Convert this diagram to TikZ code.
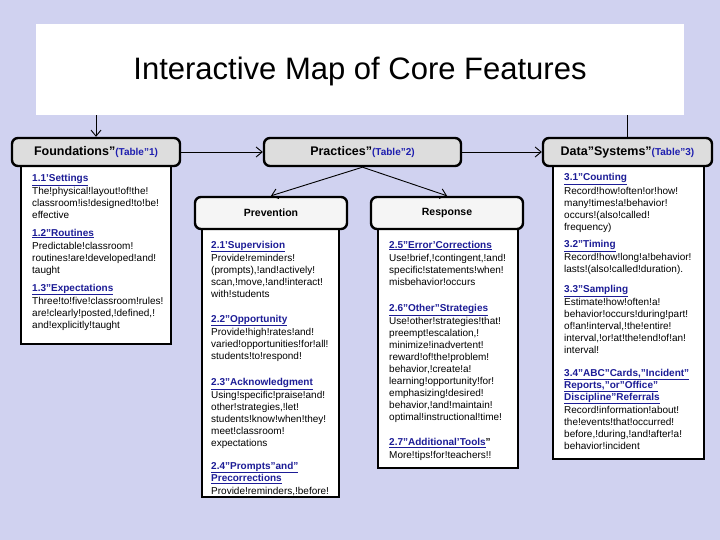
\documentclass[tikz,border=0pt]{standalone}
\usepackage{fontspec}
\setmainfont{Liberation Sans}
\usetikzlibrary{arrows.meta}
\definecolor{bg}{RGB}{208,210,240}
\definecolor{hdrfill}{RGB}{221,221,221}
\definecolor{subfill}{RGB}{245,245,245}
\definecolor{linkblue}{RGB}{28,28,150}
\definecolor{tblblue}{RGB}{30,30,175}
\newcommand\hd[1]{{\bfseries\color{linkblue}\underline{#1}}}
\begin{document}
\begin{tikzpicture}[x=1pt,y=-1pt,
  hdr/.style={draw=black, line width=2.4pt, rounded corners=6pt, fill=hdrfill, inner sep=0pt, minimum height=28pt},
  sub/.style={draw=black, line width=2.4pt, rounded corners=6pt, fill=subfill, inner sep=0pt, minimum height=32pt, font=\fontsize{10.5}{12}\selectfont\bfseries},
  panel/.style={draw=black, line width=1.1pt, fill=white, inner sep=0pt},
  sect/.style={anchor=north west, inner sep=0pt, align=left, font=\fontsize{10}{12}\selectfont},
  conn/.style={draw=black, line width=0.9pt, -{Straight Barb[length=6pt,width=10pt]}},
  plain/.style={draw=black, line width=0.9pt},
  bigt/.style={font=\fontsize{12.5}{14}\selectfont\bfseries},
  smallt/.style={font=\fontsize{10}{12}\selectfont\bfseries}
]
\useasboundingbox (0,0) rectangle (720,540);
\fill[bg] (0,0) rectangle (720,540);

% title
\node[fill=white, minimum width=648pt, minimum height=91pt, inner sep=0pt] (title) at (360,69.5) {};
\node[font=\fontsize{31}{36}\selectfont, inner sep=0pt] (ttext) at (360,71) {Interactive Map of Core Features};

% panels
\node[panel, minimum width=150pt, minimum height=178pt] (foundD) at (96,255) {};
\node[panel, minimum width=137pt, minimum height=268pt] (prevD) at (270.5,363) {};
\node[panel, minimum width=140pt, minimum height=239pt] (respD) at (448,348.5) {};
\node[panel, minimum width=151pt, minimum height=293pt] (dataD) at (628.5,312.5) {};

% headers
\node[hdr, minimum width=168pt] (found) at (96,152)
  {{\fontsize{12.5}{14}\selectfont\bfseries Foundations"}{\fontsize{10}{12}\selectfont\bfseries\color{tblblue}(Table"1)}};
\node[hdr, minimum width=197pt] (prac) at (362.5,152)
  {{\fontsize{12.5}{14}\selectfont\bfseries Practices"}{\fontsize{10}{12}\selectfont\bfseries\color{tblblue}(Table"2)}};
\node[hdr, minimum width=169pt] (data) at (627.5,152)
  {{\fontsize{12.5}{14}\selectfont\bfseries Data"Systems"}{\fontsize{10}{12}\selectfont\bfseries\color{tblblue}(Table"3)}};
\node[sub, minimum width=152pt] (prev) at (271,213) {Prevention};
\node[sub, minimum width=152pt] (resp) at (447,213) {Response};

% connectors
\draw[conn] (found.north |- title.south) -- (found.north);
\draw[plain] (data.north |- title.south) -- (data.north);
\draw[conn] (found.east) -- (prac.west);
\draw[conn] (prac.east) -- (data.west);
\draw[conn] (prac.south) -- (prev.north);
\draw[conn] (prac.south) -- (resp.north);

% Foundations sections
\node[sect] (s11) at (32,172.6) {\strut\hd{1.1'Settings}\\[1pt]
The!physical!layout!of!the!\\ classroom!is!designed!to!be!\\ effective};
\node[sect] (s12) at (32,227.6) {\strut\hd{1.2"Routines}\\[1pt]
Predictable!classroom!\\ routines!are!developed!and!\\ taught};
\node[sect] (s13) at (32,282.6) {\strut\hd{1.3"Expectations}\\[1pt]
Three!to!five!classroom!rules!\\ are!clearly!posted,!defined,!\\ and!explicitly!taught};

% Prevention sections
\node[sect] (s21) at (211,239.6) {\strut\hd{2.1'Supervision}\\[1pt]
Provide!reminders!\\ (prompts),!and!actively!\\ scan,!move,!and!interact!\\ with!students};
\node[sect] (s22) at (211,313.6) {\strut\hd{2.2"Opportunity}\\[1pt]
Provide!high!rates!and!\\ varied!opportunities!for!all!\\ students!to!respond!};
\node[sect] (s23) at (211,376.6) {\strut\hd{2.3"Acknowledgment}\\[1pt]
Using!specific!praise!and!\\ other!strategies,!let!\\ students!know!when!they!\\ meet!classroom!\\ expectations};
\node[sect] (s24) at (211,460.6) {\strut\hd{2.4"Prompts"and"}\\ \hd{Precorrections}\\[1pt]
Provide!reminders,!before!};

% Response sections
\node[sect] (s25) at (389,239.6) {\strut\hd{2.5"Error'Corrections}\\[1pt]
Use!brief,!contingent,!and!\\ specific!statements!when!\\ misbehavior!occurs};
\node[sect] (s26) at (389,302.6) {\strut\hd{2.6"Other"Strategies}\\[1pt]
Use!other!strategies!that!\\ preempt!escalation,!\\ minimize!inadvertent!\\ reward!of!the!problem!\\ behavior,!create!a!\\ learning!opportunity!for!\\ emphasizing!desired!\\ behavior,!and!maintain!\\ optimal!instructional!time!};
\node[sect] (s27) at (389,436.6) {\strut\hd{2.7"Additional'Tools}{\bfseries"}\\[1pt]
More!tips!for!teachers!!};

% Data sections
\node[sect] (s31) at (564,171.6) {\strut\hd{3.1"Counting}\\[2pt]
Record!how!often!or!how!\\ many!times!a!behavior!\\ occurs!(also!called!\\ frequency)};
\node[sect] (s32) at (564,238.6) {\strut\hd{3.2"Timing}\\[1pt]
Record!how!long!a!behavior!\\ lasts!(also!called!duration).};
\node[sect] (s33) at (564,283.6) {\strut\hd{3.3"Sampling}\\[1pt]
Estimate!how!often!a!\\ behavior!occurs!during!part!\\ of!an!interval,!the!entire!\\ interval,!or!at!the!end!of!an!\\ interval!};
\node[sect] (s34) at (564,367.6) {\strut\hd{3.4"ABC"Cards,"Incident"}\\ \hd{Reports,"or"Office"}\\ \hd{Discipline"Referrals}\\[1pt]
Record!information!about!\\ the!events!that!occurred!\\ before,!during,!and!after!a!\\ behavior!incident};
\end{tikzpicture}
\end{document}
